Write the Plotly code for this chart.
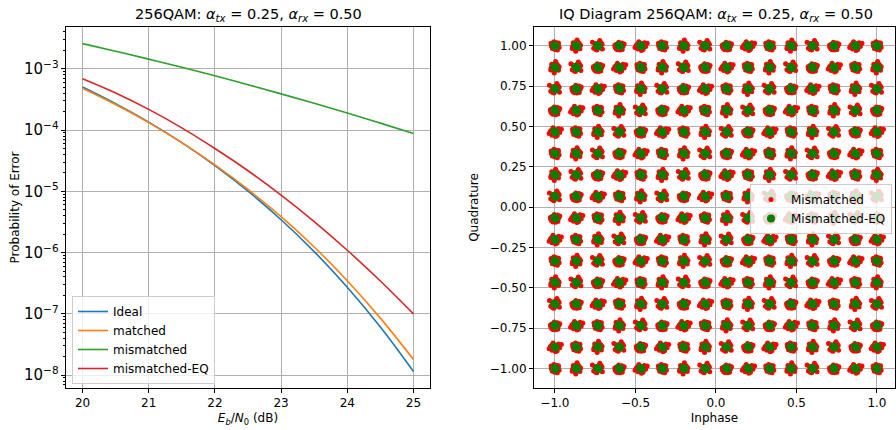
import plotly.graph_objects as go

# ---------------- data: BER curves ----------------
ebn0 = [20.0, 20.5, 21.0, 21.5, 22.0, 22.5, 23.0, 23.5, 24.0, 24.5, 25.0]
ber_ideal = [5.05e-4, 2.70e-4, 1.35e-4, 6.23e-5, 2.63e-5, 1.006e-5, 3.44e-6, 1.04e-6, 2.72e-7, 6.1e-8, 1.15e-8]
ber_matched = [4.82e-4, 2.61e-4, 1.326e-4, 6.23e-5, 2.70e-5, 1.073e-5, 3.86e-6, 1.237e-6, 3.47e-7, 8.52e-8, 1.80e-8]
ber_mismatched = [2.58e-3, 1.938e-3, 1.44e-3, 1.058e-3, 7.7e-4, 5.51e-4, 3.9e-4, 2.74e-4, 1.9e-4, 1.30e-4, 8.8e-5]
ber_mismatched_eq = [6.90e-4, 4.04e-4, 2.18e-4, 1.088e-4, 5.0e-5, 2.17e-5, 8.69e-6, 3.21e-6, 1.094e-6, 3.44e-7, 1.0e-7]

# ---------------- data: IQ constellation ----------------
levels = [-1.0, -0.8667, -0.7333, -0.6, -0.4667, -0.3333, -0.2, -0.0667,
          0.0667, 0.2, 0.3333, 0.4667, 0.6, 0.7333, 0.8667, 1.0]
# estimated scatter shapes of the noisy (red) received symbols around each point
red_offsets = [
    [(-0.022, 0.000), (0.020, 0.006), (0.000, -0.022), (0.010, 0.020), (-0.016, -0.016),
     (0.026, -0.010), (-0.024, 0.016), (0.006, 0.010), (0.015, -0.026), (-0.006, 0.026),
     (-0.012, 0.008), (0.012, -0.004), (-0.004, -0.010), (0.022, 0.018)],
    [(-0.018, 0.010), (0.024, 0.000), (0.004, -0.026), (-0.004, 0.022), (-0.026, -0.008),
     (0.016, 0.018), (0.012, -0.014), (-0.012, -0.024), (0.030, 0.012), (-0.008, 0.004),
     (0.006, 0.012), (-0.020, -0.018), (0.018, -0.022), (-0.028, 0.004)],
    [(0.000, 0.024), (-0.024, -0.004), (0.022, -0.018), (0.018, 0.014), (-0.010, -0.020),
     (-0.020, 0.020), (0.008, -0.006), (0.026, 0.004), (-0.004, -0.034), (0.004, 0.036),
     (-0.014, 0.006), (0.014, -0.010), (-0.026, -0.016), (0.010, 0.022)],
    [(-0.028, 0.004), (0.014, -0.022), (0.022, 0.020), (-0.012, 0.026), (0.000, -0.016),
     (-0.018, -0.020), (0.030, -0.004), (0.008, 0.012), (-0.036, -0.010), (0.040, 0.016),
     (-0.006, 0.014), (0.018, 0.002), (-0.020, 0.012), (0.004, -0.028)],
    [(0.018, -0.010), (-0.020, 0.014), (-0.006, -0.026), (0.010, 0.026), (0.026, 0.010),
     (-0.026, -0.014), (-0.010, 0.002), (0.004, -0.012), (0.012, 0.034), (-0.034, 0.022),
     (0.020, 0.020), (-0.014, -0.022), (0.000, 0.016), (0.028, -0.020)],
]
green_offsets = [(0.0, 0.0), (0.004, -0.003), (-0.003, 0.004)]

red_x, red_y, grn_x, grn_y = [], [], [], []
for i, xi in enumerate(levels):
    for j, yj in enumerate(levels):
        pat = red_offsets[(i * 7 + j * 3) % len(red_offsets)]
        for dx, dy in pat:
            red_x.append(xi + dx)
            red_y.append(yj + dy)
        for dx, dy in green_offsets:
            grn_x.append(xi + dx)
            grn_y.append(yj + dy)

# ---------------- figure ----------------
W, H = 896, 430
FONT = "DejaVu Sans"
fig = go.Figure()

line_w = 1.6
fig.add_trace(go.Scatter(x=ebn0, y=ber_ideal, mode="lines", name="Ideal",
                         line=dict(color="#1f77b4", width=line_w, shape="spline", smoothing=1.0),
                         xaxis="x", yaxis="y", legend="legend"))
fig.add_trace(go.Scatter(x=ebn0, y=ber_matched, mode="lines", name="matched",
                         line=dict(color="#ff7f0e", width=line_w, shape="spline", smoothing=1.0),
                         xaxis="x", yaxis="y", legend="legend"))
fig.add_trace(go.Scatter(x=ebn0, y=ber_mismatched, mode="lines", name="mismatched",
                         line=dict(color="#2ca02c", width=line_w, shape="spline", smoothing=1.0),
                         xaxis="x", yaxis="y", legend="legend"))
fig.add_trace(go.Scatter(x=ebn0, y=ber_mismatched_eq, mode="lines", name="mismatched-EQ",
                         line=dict(color="#d62728", width=line_w, shape="spline", smoothing=1.0),
                         xaxis="x", yaxis="y", legend="legend"))

fig.add_trace(go.Scatter(x=red_x, y=red_y, mode="markers", name="Mismatched",
                         marker=dict(color="#ff0000", size=5, line=dict(width=0)),
                         xaxis="x2", yaxis="y2", legend="legend2"))
fig.add_trace(go.Scatter(x=grn_x, y=grn_y, mode="markers", name="Mismatched-EQ",
                         marker=dict(color="#008000", size=8, line=dict(width=0)),
                         xaxis="x2", yaxis="y2", legend="legend2"))

def px_x(p):
    return p / W

def px_y(p):
    return 1 - p / H

axis_common = dict(showline=True, mirror=True, linecolor="black", linewidth=1,
                   ticks="outside", ticklen=4, tickcolor="black", tickwidth=1,
                   showgrid=True, gridcolor="#b0b0b0", gridwidth=0.8, zeroline=False,
                   tickfont=dict(family=FONT, size=12, color="black"))

fig.update_layout(
    width=W, height=H,
    margin=dict(l=0, r=0, t=0, b=0),
    paper_bgcolor="white", plot_bgcolor="white",
    font=dict(family=FONT, size=12, color="black"),
    xaxis=dict(domain=[px_x(66), px_x(430)], range=[19.75, 25.25],
               tickvals=[20, 21, 22, 23, 24, 25], anchor="y",
               title=dict(text="<i>E</i><sub><i>b</i></sub>/<i>N</i><sub>0</sub> (dB)",
                          font=dict(family=FONT, size=12), standoff=4),
               **axis_common),
    yaxis=dict(domain=[px_y(388), px_y(27)], type="log", range=[-8.21, -2.317],
               dtick=1, exponentformat="power", anchor="x",
               minor=dict(ticks="outside", ticklen=2, tickcolor="black", tickwidth=0.7,
                          showgrid=False, dtick="D1"),
               title=dict(text="Probability of Error", font=dict(family=FONT, size=12), standoff=1),
               **axis_common),
    xaxis2=dict(domain=[px_x(534), px_x(895)], range=[-1.13, 1.112],
                tickvals=[-1.0, -0.5, 0.0, 0.5, 1.0], tickformat=".1f", anchor="y2",
                title=dict(text="Inphase", font=dict(family=FONT, size=12), standoff=4),
                **axis_common),
    yaxis2=dict(domain=[px_y(388), px_y(27)], range=[-1.12, 1.117],
                tickvals=[-1.0, -0.75, -0.5, -0.25, 0.0, 0.25, 0.5, 0.75, 1.0],
                tickformat=".2f", anchor="x2",
                title=dict(text="Quadrature", font=dict(family=FONT, size=12), standoff=8),
                **axis_common),
    legend=dict(x=px_x(72), y=px_y(384), xanchor="left", yanchor="bottom",
                bgcolor="rgba(255,255,255,0.8)", bordercolor="#cccccc", borderwidth=1,
                font=dict(family=FONT, size=12), tracegroupgap=0, itemwidth=30),
    legend2=dict(x=px_x(750), y=px_y(184), xanchor="left", yanchor="top",
                 bgcolor="rgba(255,255,255,0.8)", bordercolor="#cccccc", borderwidth=1,
                 font=dict(family=FONT, size=12), itemwidth=30),
    annotations=[
        dict(text="256QAM: <i>α</i><sub><i>tx</i></sub> = 0.25, <i>α</i><sub><i>rx</i></sub> = 0.50",
             x=px_x(248), y=px_y(15), xref="paper", yref="paper", showarrow=False,
             xanchor="center", yanchor="middle", font=dict(family=FONT, size=14.5)),
        dict(text="IQ Diagram 256QAM: <i>α</i><sub><i>tx</i></sub> = 0.25, <i>α</i><sub><i>rx</i></sub> = 0.50",
             x=px_x(716), y=px_y(15), xref="paper", yref="paper", showarrow=False,
             xanchor="center", yanchor="middle", font=dict(family=FONT, size=14.5)),
    ],
    showlegend=True,
)

fig.write_html("out.html")
